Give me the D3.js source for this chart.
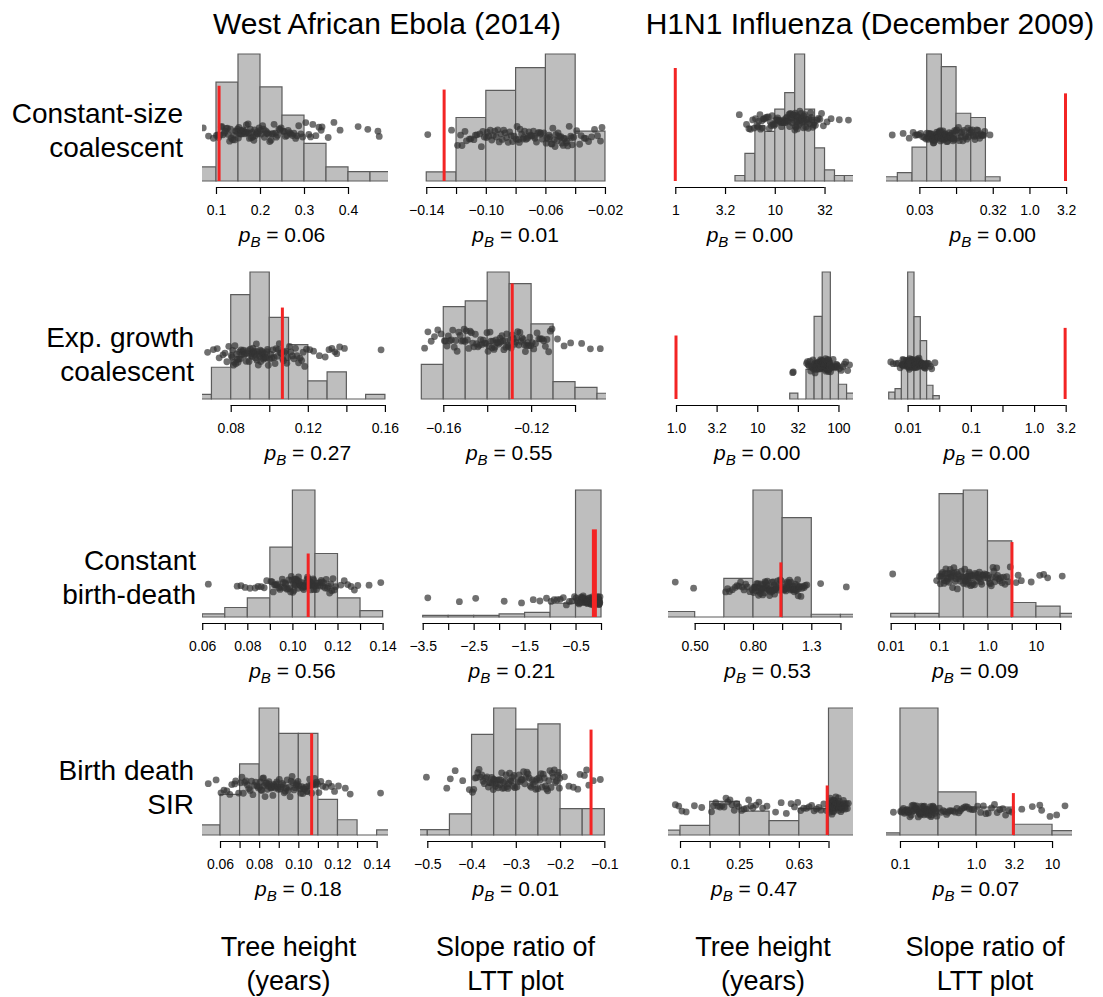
<!DOCTYPE html>
<html><head><meta charset="utf-8">
<script src="https://cdn.jsdelivr.net/npm/d3@7/dist/d3.min.js"></script>
<style>body{margin:0;background:#fff}</style>
</head><body>
<svg id="chart" width="1103" height="997"></svg>
<script>
// ---------------- DATA ----------------
const datasets = ["West African Ebola (2014)", "H1N1 Influenza (December 2009)"];
const models = [["Constant-size","coalescent"],["Exp. growth","coalescent"],["Constant","birth-death"],["Birth death","SIR"]];
const statistics = [["Tree height","(years)"],["Slope ratio of","LTT plot"],["Tree height","(years)"],["Slope ratio of","LTT plot"]];
const columnScale = ["linear","linear","log","log"];

// simulated (posterior predictive) statistics, one array per panel
const sim_r1c1 = [0.071,0.083,0.094,
 0.101,0.104,0.106,0.109,0.112,0.113,0.116,0.119,0.121,0.123,0.126,0.128,0.131,0.133,0.135,0.138,0.14,0.142,0.145,0.147,0.149,
 0.151,0.152,0.154,0.156,0.157,0.159,0.161,0.162,0.164,0.166,0.168,0.169,0.171,0.173,0.175,0.176,0.178,0.18,0.182,0.184,0.186,0.188,0.19,0.192,0.194,0.196,0.198,
 0.201,0.203,0.206,0.208,0.21,0.213,0.215,0.217,0.22,0.222,0.225,0.227,0.23,0.232,0.235,0.237,0.24,0.243,0.245,0.248,
 0.252,0.255,0.258,0.261,0.264,0.267,0.27,0.274,0.277,0.281,0.284,0.288,0.293,0.297,
 0.304,0.311,0.315,0.32,0.327,0.334,0.339,0.341, 0.355,0.368,0.382, 0.423,0.445, 0.468,0.471];
const sim_r1c2 = [-0.139,-0.123,
 -0.119,-0.117,-0.116,-0.114,-0.113,-0.111,-0.11,-0.108,-0.107,-0.106,-0.104,-0.103,-0.102,-0.101,
 -0.0995,-0.099,-0.098,-0.097,-0.096,-0.095,-0.094,-0.093,-0.092,-0.091,-0.09,-0.089,-0.088,-0.087,-0.086,-0.085,-0.084,-0.083,-0.082,-0.081,
 -0.0795,-0.079,-0.078,-0.0775,-0.077,-0.076,-0.075,-0.0745,-0.074,-0.073,-0.072,-0.0715,-0.071,-0.07,-0.069,-0.068,-0.0675,-0.067,-0.066,-0.065,-0.064,-0.0635,-0.063,-0.062,-0.061,
 -0.0595,-0.059,-0.058,-0.0575,-0.057,-0.056,-0.0555,-0.055,-0.054,-0.0535,-0.053,-0.052,-0.0515,-0.051,-0.05,-0.0495,-0.049,-0.048,-0.0475,-0.047,-0.046,-0.0455,-0.045,-0.044,-0.043,-0.0425,-0.042,-0.041,
 -0.039,-0.037,-0.036,-0.034,-0.033,-0.031,-0.029,-0.027,-0.025,-0.023,-0.022];
const sim_r1c3 = [4.4, 5.2,5.5,5.7,6.0,6.2,
 6.4,6.6,6.8,6.9,7.1,7.2,7.4,7.5,7.7,7.85,
 8.1,8.3,8.6,8.8,9.0,9.2,9.4,9.6,9.85,
 10.1,10.3,10.5,10.7,10.9,11.1,11.3,11.5,11.7,11.9,12.1,12.3,12.5,
 12.7,12.9,13.1,13.3,13.5,13.7,13.9,14.1,14.3,14.5,14.7,14.9,15.1,15.3,15.5,15.7,
 15.9,16.05,16.2,16.35,16.5,16.7,16.85,17.0,17.2,17.35,17.5,17.7,17.85,18.0,18.2,18.4,18.6,18.8,19.0,19.2,19.4,19.6,19.8,
 20.1,20.5,20.9,21.3,21.7,22.1,22.5,22.9,23.3,23.7,24.1,24.5,24.9,
 25.6,26.5,27.4,28.4,29.5,30.8, 33.5,36.8, 44.5, 55];
const sim_r1c4 = [0.0135, 0.019,0.023,
 0.026,0.028,0.0295,0.031,0.033,0.035,0.037,0.039,
 0.0402,0.041,0.0418,0.0426,0.0434,0.0442,0.045,0.0458,0.0466,0.0474,0.0482,0.049,0.0498,0.0506,0.0514,0.0522,0.053,0.0538,0.0546,0.0554,0.0562,0.057,0.0578,0.0586,0.0594,0.0602,0.061,0.0616,0.0622,0.0628,
 0.064,0.0652,0.0664,0.0676,0.0688,0.07,0.0712,0.0724,0.0736,0.0748,0.076,0.0772,0.0784,0.0796,0.0808,0.082,0.0832,0.0845,0.0858,0.0871,0.0884,0.0897,0.091,0.0925,0.094,0.0955,0.0985,
 0.102,0.105,0.108,0.111,0.114,0.117,0.12,0.124,0.128,0.132,0.136,0.14,0.144,0.148,0.152,0.156,
 0.161,0.166,0.171,0.176,0.181,0.186,0.192,0.198,0.204,0.21,0.217,0.224,0.231,0.238,0.246, 0.29];
const sim_r2c1 = [0.068, 0.071,0.073,0.074,0.076,0.077,0.078,0.079,
 0.0803,0.0807,0.081,0.0814,0.0818,0.0822,0.0826,0.083,0.0834,0.0838,0.0842,0.0846,0.085,0.0854,0.0858,0.0862,0.0866,0.087,0.0875,0.088,0.0885,0.089,0.0895,
 0.0902,0.0905,0.0909,0.0912,0.0916,0.0919,0.0922,0.0926,0.0929,0.0933,0.0936,0.0939,0.0943,0.0946,0.095,0.0953,0.0956,0.096,0.0963,0.0967,0.097,0.0973,0.0977,0.098,0.0984,0.0987,0.0991,0.0995,
 0.1003,0.1008,0.1014,0.1019,0.1025,0.103,0.1036,0.1041,0.1047,0.1052,0.1058,0.1063,0.1069,0.1074,0.108,0.1085,0.1091,0.1096,
 0.1105,0.1112,0.112,0.1128,0.1136,0.1144,0.1152,0.116,0.1168,0.1176,0.1184,0.1193,
 0.121,0.123,0.126,0.129, 0.131,0.1325,0.134,0.135,0.1365,0.139, 0.158];
const sim_r2c2 = [-0.1685,-0.167,-0.1655,-0.164,-0.1625,-0.161,
 -0.1595,-0.159,-0.1583,-0.1577,-0.157,-0.1563,-0.1557,-0.155,-0.1543,-0.1537,-0.153,-0.1523,-0.1517,-0.151,-0.1505,-0.1501,
 -0.1495,-0.149,-0.1484,-0.1478,-0.1472,-0.1466,-0.146,-0.1454,-0.1448,-0.1442,-0.1436,-0.143,-0.1424,-0.1418,-0.1412,-0.1406,-0.1401,
 -0.1396,-0.1392,-0.1387,-0.1383,-0.1378,-0.1374,-0.1369,-0.1365,-0.136,-0.1356,-0.1351,-0.1347,-0.1342,-0.1338,-0.1333,-0.1329,-0.1324,-0.132,-0.1315,-0.1311,-0.1306,-0.1302,
 -0.1296,-0.1291,-0.1286,-0.1281,-0.1276,-0.1271,-0.1266,-0.1261,-0.1256,-0.1251,-0.1246,-0.1241,-0.1236,-0.1231,-0.1226,-0.1221,-0.1216,-0.1211,-0.1206,-0.1202,
 -0.1195,-0.1188,-0.118,-0.1173,-0.1165,-0.1158,-0.115,-0.1143,-0.1135,-0.1128,-0.112,-0.1113,-0.1105,
 -0.108,-0.105,-0.102, -0.097,-0.093, -0.0885];
const sim_r2c3 = [27.3,27.8,
 40.5,41.5,42.5,43.5,44.5,45.5,46.5,47.5,48.5,49.5,
 50.5,51,51.5,52,52.5,53,53.5,54,54.5,55,55.5,56,56.5,57,57.5,58,58.5,59,59.5,60,60.3,60.6,61,61.3,61.6,62,62.4,62.8,
 63.4,63.8,64.2,64.6,65,65.4,65.8,66.2,66.6,67,67.4,67.8,68.2,68.6,69,69.4,69.8,70.2,70.6,71,71.4,71.8,72.2,72.6,73,73.4,73.8,74.2,74.6,75,75.3,75.6,75.9,76.2,76.5,76.8,77.1,77.4,77.7,78,78.3,78.6,79,
 80,82,84,86,88,90,92,94,96,98, 103,108,113,118,123, 130,137];
const sim_r2c4 = [0.0054,0.0059, 0.0066,0.0071,0.0076,
 0.0081,0.0082,0.0084,0.0085,0.0087,0.0088,0.009,0.0092,0.0094,0.0095,0.0097,0.0099,
 0.01005,0.0101,0.0102,0.0103,0.0104,0.0105,0.0106,0.0107,0.0108,0.0109,0.011,0.0111,0.0112,0.0113,0.0114,0.0115,0.0116,0.0117,0.0118,0.0119,0.012,0.0121,0.0122,0.0123,0.0124,0.0125,0.01255,0.01015,0.01025,0.01035,0.01045,0.01055,0.01065,0.01075,0.01085,0.01095,0.01105,
 0.0127,0.0128,0.0129,0.013,0.0131,0.0132,0.0133,0.0134,0.0135,0.0136,0.0137,0.0138,0.0139,0.014,0.0141,0.0142,0.0143,0.0145,0.0147,0.0149,0.0151,0.0153,0.0155,0.0157,
 0.016,0.0162,0.0164,0.0166,0.0168,0.017,0.0172,0.0174,0.0176,0.0178,0.018,0.0182,0.0184,0.0187,0.019,0.0193,0.0196,
 0.0205,0.0215,0.0228,0.024, 0.027];
const sim_r3c1 = [0.0627, 0.0755,0.0772,0.079, 0.0812,0.0835,0.0848,0.0862,0.0875,0.0886,
 0.0905,0.091,0.0915,0.092,0.0925,0.093,0.0935,0.094,0.0945,0.095,0.0955,0.096,0.0964,0.0968,0.0972,0.0976,0.098,0.0984,0.0988,0.0992,0.0995,0.0998,
 0.1002,0.1005,0.1007,0.101,0.1012,0.1015,0.1017,0.102,0.1022,0.1025,0.1027,0.103,0.1032,0.1035,0.1037,0.104,0.1042,0.1045,0.1047,0.105,
 0.1052,0.1055,0.1057,0.106,0.1062,0.1065,0.1067,0.107,0.1072,0.1075,0.1077,0.108,0.1082,0.1085,0.1087,0.109,0.1092,0.1094,0.1096,0.1098,
 0.1103,0.1107,0.1111,0.1115,0.112,0.1124,0.1128,0.1132,0.1136,0.114,0.1145,0.115,0.1155,0.116,0.1165,0.117,0.1175,0.118,0.1186,0.1192,
 0.1215,0.123,0.1245,0.126,0.1275,0.129, 0.134,0.1392];
const sim_r3c2 = [-3.4,-2.78,-2.46,-1.9,-1.56,-1.33,-1.2,-1.07,
 -0.98,-0.92,-0.86,-0.8,-0.74,-0.68,-0.62,-0.57,-0.52,
 -0.49,-0.47,-0.45,-0.43,-0.41,-0.39,-0.38,-0.37,-0.36,-0.35,-0.34,-0.33,-0.32,-0.31,-0.3,-0.295,-0.29,-0.285,-0.28,-0.275,
 -0.27,-0.265,-0.26,-0.255,-0.25,-0.245,-0.24,-0.235,-0.23,-0.225,-0.22,-0.215,-0.21,-0.205,-0.2,-0.195,-0.19,-0.185,-0.18,-0.175,
 -0.17,-0.166,-0.162,-0.158,-0.154,-0.15,-0.146,-0.142,-0.138,-0.134,-0.13,-0.126,-0.122,-0.118,-0.114,-0.11,-0.106,-0.102,-0.098,-0.094,
 -0.09,-0.087,-0.084,-0.081,-0.078,-0.075,-0.072,-0.069,-0.066,-0.063,-0.06,-0.057,-0.054,-0.051,-0.048,-0.045,-0.042,-0.039,-0.036,-0.032,-0.028,-0.024,-0.02];
const sim_r3c3 = [0.43,0.497,
 0.64,0.65,0.66,0.675,0.69,0.7,0.71,0.72,0.73,0.74,0.75,0.76,0.775,0.79,
 0.798,0.802,0.806,0.81,0.814,0.818,0.822,0.826,0.83,0.834,0.838,0.842,0.846,0.85,0.854,0.858,0.862,0.866,0.87,0.874,
 0.878,0.882,0.886,0.89,0.894,0.898,0.902,0.906,0.91,0.914,0.918,0.922,0.926,0.93,0.934,0.938,0.942,0.946,0.95,0.955,0.96,0.965,0.97,0.977,0.984,0.992,
 1.005,1.01,1.015,1.02,1.025,1.03,1.035,1.04,1.045,1.05,1.055,1.06,1.065,1.07,1.075,1.08,1.085,1.09,1.095,1.1,
 1.105,1.11,1.115,1.12,1.125,1.13,1.135,1.14,1.145,1.15,1.16,1.17,1.18,1.19,1.2,1.215, 1.355, 1.66];
const sim_r3c4 = [0.011, 0.089,
 0.102,0.106,0.11,0.114,0.118,0.122,0.126,0.13,0.134,0.138,0.142,0.146,0.15,0.155,0.16,0.165,0.17,0.175,0.18,0.185,0.19,0.196,0.202,0.208,0.215,0.222,0.23,0.238,0.246,0.255,0.265,0.278,0.29,0.305,
 0.32,0.33,0.34,0.35,0.36,0.37,0.38,0.39,0.4,0.41,0.42,0.43,0.44,0.45,0.46,0.47,0.48,0.5,0.52,0.54,0.56,0.58,0.6,0.62,0.64,0.66,0.68,0.7,0.73,0.76,0.79,0.82,0.86,0.9,0.95,
 1.02,1.06,1.1,1.15,1.2,1.25,1.3,1.36,1.42,1.48,1.55,1.62,1.7,1.8,1.9,2.0,2.15,2.3,2.5,2.7,2.95,
 3.9,4.3,5.0,8.0, 12,14.5,17.5, 35];
const sim_r4c1 = [0.054,0.058, 0.0605,0.062,0.0635,0.065,0.066,0.0675,0.068,0.0695,
 0.0705,0.0712,0.0719,0.0726,0.0733,0.074,0.0747,0.0754,0.0761,0.0768,0.0775,0.0782,0.0789,0.0796,
 0.0802,0.0806,0.081,0.0814,0.0818,0.0822,0.0826,0.083,0.0834,0.0838,0.0842,0.0846,0.085,0.0854,0.0858,0.0862,0.0866,0.087,0.0874,0.0878,0.0882,0.0886,0.089,0.0894,0.0898,
 0.0903,0.0908,0.0913,0.0918,0.0923,0.0928,0.0933,0.0938,0.0943,0.0948,0.0953,0.0958,0.0963,0.0968,0.0973,0.0978,0.0983,0.0988,0.0993,0.0998,
 0.1003,0.1008,0.1013,0.1018,0.1023,0.1028,0.1033,0.1038,0.1043,0.1048,0.1053,0.1058,0.1063,0.1068,0.1073,0.1078,0.1083,0.1088,0.1093,0.1098,
 0.1105,0.1115,0.1125,0.114,0.1155,0.117,0.1185, 0.1205,0.124,0.1265, 0.142];
const sim_r4c2 = [-0.502,-0.456, -0.448,-0.437,-0.42,-0.405,
 -0.398,-0.395,-0.392,-0.389,-0.386,-0.383,-0.38,-0.377,-0.374,-0.371,-0.368,-0.365,-0.362,-0.3595,-0.357,-0.3545,-0.3525,-0.351,-0.3505,
 -0.348,-0.346,-0.344,-0.342,-0.34,-0.338,-0.336,-0.334,-0.332,-0.33,-0.328,-0.326,-0.324,-0.322,-0.32,-0.318,-0.316,-0.314,-0.312,-0.31,-0.308,-0.306,-0.304,-0.302,
 -0.2975,-0.295,-0.2925,-0.29,-0.2875,-0.285,-0.2825,-0.28,-0.2775,-0.275,-0.2725,-0.27,-0.2675,-0.265,-0.2625,-0.26,-0.2575,-0.255,-0.2525,-0.2505,
 -0.248,-0.2455,-0.243,-0.2405,-0.238,-0.2355,-0.233,-0.2305,-0.228,-0.2255,-0.223,-0.2205,-0.218,-0.2155,-0.213,-0.2105,-0.208,-0.2055,-0.203,-0.2015,-0.2005,
 -0.19,-0.18,-0.17,-0.16,-0.155, -0.145,-0.14,-0.135,-0.125,-0.109];
const sim_r4c3 = [0.093,0.098, 0.103,0.11,0.125,0.14,
 0.163,0.168,0.174,0.18,0.186,0.192,0.198,0.204,0.21,0.217,0.224,0.232,0.24,0.248,
 0.26,0.27,0.28,0.29,0.3,0.31,0.325,0.34,0.36,0.385,
 0.44,0.48,0.52,0.56,0.59,0.62,
 0.65,0.68,0.71,0.74,0.77,0.8,0.83,0.86,0.89,0.93,0.97,
 1.005,1.01,1.015,1.02,1.025,1.03,1.035,1.04,1.045,1.05,1.055,1.06,1.065,1.07,1.075,1.08,1.085,1.09,1.095,1.1,
 1.105,1.11,1.115,1.12,1.125,1.13,1.135,1.14,1.145,1.15,1.155,1.16,1.165,1.17,1.175,1.18,1.185,1.19,1.195,1.2,
 1.21,1.22,1.23,1.24,1.25,1.26,1.27,1.28,1.29,1.3,1.32,1.34,1.36];
const sim_r4c4 = [0.082,
 0.102,0.105,0.108,0.111,0.114,0.117,0.12,0.123,0.126,0.129,0.132,0.135,0.138,0.141,0.144,0.147,0.15,0.153,0.156,0.159,
 0.162,0.165,0.168,0.171,0.174,0.177,0.18,0.183,0.186,0.189,0.192,0.195,0.198,0.201,0.204,0.207,0.21,0.213,0.216,0.219,
 0.222,0.225,0.228,0.232,0.236,0.24,0.244,0.248,0.252,0.256,0.26,0.265,0.27,0.275,0.28,0.285,0.29,0.298,0.306,
 0.33,0.35,0.37,0.39,0.41,0.43,0.45,0.47,0.5,0.53,0.56,0.59,0.62,0.65,0.69,0.73,0.77,0.82,0.88,0.94,
 1.05,1.15,1.25,1.35,1.45,1.6,1.75,1.9,2.05,2.25,2.45,2.7,2.95,
 4.0,5.5,6.9,7.3,9.4, 11.5,14.8];

const observed = [[0.107,-0.128,1.0,3.1],[0.1068,-0.1286,1.0,3.1],[0.107,-0.13,0.99,3.2],[0.1068,-0.13,0.98,3.1]];
const pValues = [["0.06","0.01","0.00","0.00"],["0.27","0.55","0.00","0.00"],["0.56","0.21","0.53","0.09"],["0.18","0.01","0.47","0.07"]];

// axis domains per panel (values)
const domains = [
 [[0.0682,0.4909],[-0.1442,-0.0193],[0.845,61.1],[0.0111,3.80]],
 [[0.0651,0.1616],[-0.1706,-0.0859],[0.797,151],[0.00454,3.98]],
 [[0.0599,0.1424],[-3.553,0.098],[0.406,1.75],[0.0080,55.7]],
 [[0.0508,0.1458],[-0.5165,-0.0962],[0.083,1.462],[0.0655,18.3]]];
// tick values and tick labels
const tickValues = [
 [[0.1,0.2,0.3,0.4],[-0.14,-0.12,-0.10,-0.08,-0.06,-0.04,-0.02],[1,3.162,10,31.62],[0.03162,0.1,0.3162,1,3.162]],
 [[0.08,0.10,0.12,0.14,0.16],[-0.16,-0.14,-0.12,-0.10],[1,3.162,10,31.62,100],[0.01,0.03162,0.1,0.3162,1,3.162]],
 [[0.06,0.07,0.08,0.09,0.10,0.11,0.12,0.13,0.14],[-3.5,-3,-2.5,-2,-1.5,-1,-0.5,0],[0.5012,0.631,0.7943,1,1.259,1.585],[0.01,0.03162,0.1,0.3162,1,3.162,10,31.62]],
 [[0.06,0.07,0.08,0.09,0.10,0.11,0.12,0.13,0.14],[-0.5,-0.4,-0.3,-0.2,-0.1],[0.1,0.1585,0.2512,0.3981,0.631,1],[0.1,0.3162,1,3.162,10]]];
const tickLabels = [
 [["0.1","0.2","0.3","0.4"],["\u22120.14","","\u22120.10","","\u22120.06","","\u22120.02"],["1","3.2","10","32"],["0.03","","0.32","1.0","3.2"]],
 [["0.08","","0.12","","0.16"],["\u22120.16","","\u22120.12",""],["1.0","3.2","10","32","100"],["0.01","","0.1","","1.0","3.2"]],
 [["0.06","","0.08","","0.10","","0.12","","0.14"],["\u22123.5","","\u22122.5","","\u22121.5","","\u22120.5",""],["0.50","","0.80","","1.3",""],["0.01","","0.1","","1.0","","10",""]],
 [["0.06","","0.08","","0.10","","0.12","","0.14"],["\u22120.5","\u22120.4","\u22120.3","\u22120.2","\u22120.1"],["0.1","","0.25","","0.63",""],["0.1","","1.0","3.2","10"]]];
// histogram breaks [start, stop, step]; in log10 units on log columns
const histBreaks = [
 [[0.05,0.5,0.05],[-0.14,-0.02,0.02],[0.6,1.8,0.1],[-2,-0.4,0.2]],
 [[0.06,0.16,0.01],[-0.17,-0.08,0.01],[1.4,2.2,0.1],[-2.3,-1.5,0.1]],
 [[0.06,0.14,0.01],[-3.5,0,0.5],[-0.4,0.3,0.1],[-2,2,0.5]],
 [[0.05,0.15,0.01],[-0.55,-0.1,0.05],[-1.2,0.2,0.2],[-1.5,1.5,0.5]]];

const sims = [[sim_r1c1,sim_r1c2,sim_r1c3,sim_r1c4],[sim_r2c1,sim_r2c2,sim_r2c3,sim_r2c4],
              [sim_r3c1,sim_r3c2,sim_r3c3,sim_r3c4],[sim_r4c1,sim_r4c2,sim_r4c3,sim_r4c4]];

// ---------------- LAYOUT / STYLE ----------------
const colX = [[202,388],[420,606],[668,853],[886,1072]];
const rowBase = [181,399,617,835];
const panelH = 127;
const redFrac = [[0.75,0.72,0.89,0.69],[0.72,0.91,0.5,0.56],[0.5,0.69,0.43,0.59],[0.8,0.83,0.39,0.33]];
const redWidth = [[3,3,3,3],[3,3,3,3],[3,5,3,3],[3,3,3,3]];
const pointLevel = [[0.38,0.35,0.47,0.36],[0.35,0.46,0.26,0.28],[0.25,0.13,0.23,0.31],[0.39,0.43,0.23,0.19]];
const jitterAmp = [[11,12,11,9],[12,14,8,6],[9,5,10,12],[12,13,10,7]];
const FONT = "'Liberation Sans', Arial, Helvetica, sans-serif";

const svg = d3.select("#chart").style("font-family", FONT);
const defs = svg.append("defs");

function hash(i, k) { const s = Math.sin(i * 127.1 + k * 311.7) * 43758.5453; return s - Math.floor(s); }

// titles
const titleX = [387, 870];
datasets.forEach((t, i) => {
  svg.append("text").attr("x", titleX[i]).attr("y", 34).attr("text-anchor", "middle")
    .attr("font-size", 30).attr("fill", "#000").text(t);
});
// row labels
const rowLabelRight = [183, 194, 196, 194];
const rowLabelY = [122.5, 346.5, 569.5, 779.5];
models.forEach((m, r) => {
  m.forEach((line, j) => {
    svg.append("text").attr("x", rowLabelRight[r]).attr("y", rowLabelY[r] + j * 34)
      .attr("text-anchor", "end").attr("font-size", 28).attr("fill", "#000").text(line);
  });
});
// bottom labels
statistics.forEach((s, c) => {
  const cx = [288.5, 515.5, 763, 985][c];
  s.forEach((line, j) => {
    svg.append("text").attr("x", cx).attr("y", 956 + j * 34).attr("text-anchor", "middle")
      .attr("font-size", 27).attr("fill", "#000").text(line);
  });
});

// panels
for (let r = 0; r < 4; r++) {
  for (let c = 0; c < 4; c++) {
    const [x0, x1] = colX[c];
    const base = rowBase[r];
    const isLog = columnScale[c] === "log";
    const x = (isLog ? d3.scaleLog() : d3.scaleLinear()).domain(domains[r][c]).range([x0, x1]);
    const vals = sims[r][c];
    const [b0, b1, bs] = histBreaks[r][c];
    const nb = Math.round((b1 - b0) / bs);
    const edges = d3.range(nb + 1).map(i => +(b0 + i * bs).toFixed(6));
    const thr = isLog ? edges.map(e => Math.pow(10, e)) : edges;
    const bins = d3.bin().domain([thr[0], thr[thr.length - 1]]).thresholds(thr.slice(1, -1))(vals);
    const y = d3.scaleLinear().domain([0, d3.max(bins, b => b.length)]).range([base, base - panelH]);

    const clipId = `clip-${r}-${c}`;
    defs.append("clipPath").attr("id", clipId).append("rect")
      .attr("x", x0).attr("y", 0).attr("width", x1 - x0).attr("height", 997);

    const g = svg.append("g");
    const pg = g.append("g").attr("clip-path", `url(#${clipId})`);
    pg.selectAll("path.bar").data(bins).join("path").attr("class", "bar")
      .attr("d", b => `M${x(b.x0)},${base}V${y(b.length)}H${x(b.x1)}V${base}Z`)
      .attr("fill", "#bebebe").attr("stroke", "#5c5c5c").attr("stroke-width", 1.2);

    const lvl = base - pointLevel[r][c] * panelH;
    const amp = jitterAmp[r][c];
    pg.selectAll("circle").data(vals).join("circle")
      .attr("cx", d => x(d))
      .attr("cy", (d, i) => lvl + ((hash(i, r * 4 + c) + hash(i + 50, r * 4 + c + 9)) - 1) * amp)
      .attr("r", 3.4).attr("fill", "#333").attr("fill-opacity", 0.7);

    const ox = x(observed[r][c]);
    g.append("line").attr("x1", ox).attr("x2", ox).attr("y1", base)
      .attr("y2", base - redFrac[r][c] * panelH)
      .attr("stroke", "#f32424").attr("stroke-width", redWidth[r][c]);

    // axis
    const tv = tickValues[r][c], tl = tickLabels[r][c];
    const ax = g.append("g").attr("transform", `translate(0,${base + 6})`)
      .call(d3.axisBottom(x).tickValues(tv).tickFormat((d, i) => tl[i]).tickSize(7).tickSizeOuter(0).tickPadding(11));
    ax.select(".domain").remove();
    ax.append("line").attr("x1", x(tv[0])).attr("x2", x(tv[tv.length - 1])).attr("y1", 0.5).attr("y2", 0.5)
      .attr("stroke", "#000").attr("stroke-width", 1.2);
    ax.selectAll(".tick line").attr("stroke", "#000").attr("stroke-width", 1.2);
    ax.selectAll(".tick text").attr("font-size", 14).attr("font-family", FONT).attr("fill", "#000");

    // p_B label
    const mid = (x(tv[0]) + x(tv[tv.length - 1])) / 2;
    const t = g.append("text").attr("x", mid).attr("y", base + 61).attr("text-anchor", "middle")
      .attr("font-size", 21).attr("fill", "#000");
    t.append("tspan").attr("font-style", "italic").text("p");
    t.append("tspan").attr("font-style", "italic").attr("font-size", 15).attr("dy", 5).text("B");
    t.append("tspan").attr("dy", -5).text(" = " + pValues[r][c]);
  }
}
</script>
</body></html>
